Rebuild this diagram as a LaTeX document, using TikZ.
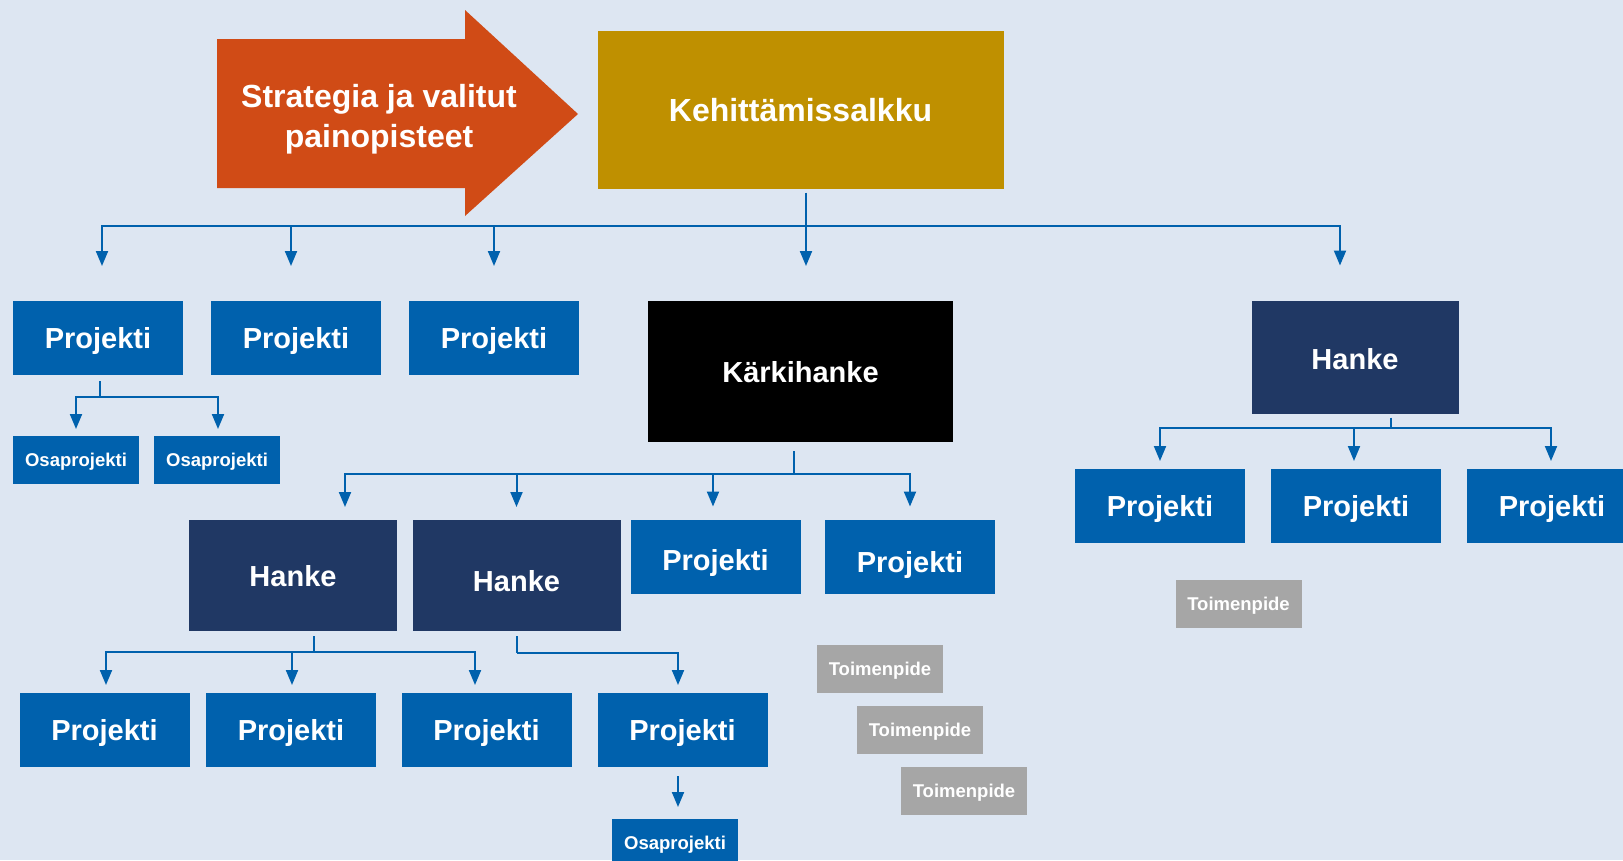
\documentclass[tikz,border=0pt]{standalone}
\usepackage{fontspec}
\setmainfont{Liberation Sans}
\usepackage{tikz}
\usetikzlibrary{arrows.meta}
\usepackage{xcolor}
\definecolor{bgblue}{HTML}{DDE6F2}
\definecolor{projblue}{HTML}{0061AD}
\definecolor{hankenavy}{HTML}{203864}
\definecolor{salkkugold}{HTML}{BF9000}
\definecolor{strategyorange}{HTML}{D04B16}
\definecolor{toimgray}{HTML}{A6A6A6}

\begin{document}
\begin{tikzpicture}
    [   x = 1pt, y = -1pt
    ,   > = {Triangle[width=12pt,length=15pt]}
    ,   box/.style =
        {   inner sep = 0mm
        ,   outer sep = 0mm
        ,   text = white
        ,   font = \bfseries\fontsize{29}{34}\selectfont
        ,   text height = 21pt
        ,   text depth = 0pt
        }
    ,   projekti/.style =
        {   box
        ,   fill = projblue
        ,   minimum width = 170pt
        ,   minimum height = 74pt
        }
    ,   hanke/.style =
        {   box
        ,   fill = hankenavy
        ,   minimum width = 208pt
        ,   minimum height = 111pt
        }
    ,   small/.style =
        {   box
        ,   minimum width = 126pt
        ,   minimum height = 48pt
        ,   font = \bfseries\fontsize{18.5}{22}\selectfont
        ,   text height = 13pt
        }
    ,   link/.style =
        {   draw = projblue
        ,   line width = 2pt
        }
    ]
    \useasboundingbox (0,0) rectangle (1623,860);
    \fill[bgblue] (0,0) rectangle (1623,860);

    % strategy arrow and portfolio
    \fill[strategyorange] (217,39) -- (465,39) -- (465,10) -- (578,114)
        -- (465,216) -- (465,188) -- (217,188) -- cycle;
    \node[box, align=center, font=\bfseries\fontsize{32}{40}\selectfont, text height=23pt]
        (strategia) at (379,136) {Strategia ja valitut\\painopisteet};
    \node[box, fill=salkkugold, minimum width=406pt, minimum height=158pt,
        font=\bfseries\fontsize{32}{38}\selectfont, text height=23pt]
        (S) at (800.5,109.5) {Kehittämissalkku};

    % first level
    \foreach\n/\x in {0/98,1/296,2/494}
    {   \node[projekti] (P\n) at (\x,338) {Projekti};
    }
    \node[box, fill=black, minimum width=305pt, minimum height=141pt] (K) at (800.5,371.5) {Kärkihanke};
    \node[hanke, minimum width=207pt, minimum height=113pt, text height=25pt] (H) at (1355,357) {Hanke};
    \foreach\n/\x in {0/76,1/217}
    {   \node[small, fill=projblue] (O\n) at (\x,460) {Osaprojekti};
    }

    % under Hanke (right)
    \foreach\n/\x in {0/1160,1/1356,2/1552}
    {   \node[projekti] (R\n) at (\x,506) {Projekti};
    }
    \node[small, fill=toimgray] (T3) at (1238.5,603.5) {Toimenpide};

    % under Kärkihanke
    \node[hanke] (HL0) at (293,575.5) {Hanke};
    \node[hanke, text height=31pt] (HL1) at (516.5,575.5) {Hanke};
    \foreach\n/\x/\h in {0/715.5/27pt,1/910/31pt}
    {   \node[projekti, text height=\h] (KP\n) at (\x,556.5) {Projekti};
    }
    \foreach\n/\x/\y in {0/880/669,1/920/730,2/964/791}
    {   \node[small, fill=toimgray] (T\n) at (\x,\y) {Toimenpide};
    }
    \foreach\n/\x in {0/104.5,1/291,2/486.5,3/682.5}
    {   \node[projekti] (B\n) at (\x,730) {Projekti};
    }
    \node[small, fill=projblue] (O2) at (675,843) {Osaprojekti};

    % connectors
    \draw[link] ([xshift=5.5pt,yshift=-4pt]S.south) -- ++(0,33) coordinate (s0);
    \foreach\t/\dx in {P0/4pt,P1/-5pt,P2/0pt,K/5.5pt,H/-15pt}
    {   \draw[link,->] (s0) -| ([xshift=\dx,yshift=35pt]\t.north);
    }
    \draw[link] ([xshift=2pt,yshift=-6pt]P0.south) -- ++(0,16) coordinate (p0);
    \foreach\t/\dx in {O0/0pt,O1/1pt}
    {   \draw[link,->] (p0) -| ([xshift=\dx,yshift=7pt]\t.north);
    }
    \draw[link] ([xshift=-6.5pt,yshift=-9pt]K.south) -- ++(0,23) coordinate (k0);
    \foreach\t/\dx in {HL0/52pt,HL1/0pt,KP0/-2.5pt,KP1/0pt}
    {   \draw[link,->] (k0) -| ([xshift=\dx,yshift=13pt]\t.north);
    }
    \draw[link] ([xshift=36pt,yshift=-4pt]H.south) -- ++(0,10) coordinate (h0);
    \foreach\t/\dx in {R0/0pt,R1/-2pt,R2/-1pt}
    {   \draw[link,->] (h0) -| ([xshift=\dx,yshift=8pt]\t.north);
    }
    \draw[link] ([xshift=21pt,yshift=-5pt]HL0.south) -- ++(0,16) coordinate (hl0);
    \foreach\t/\dx in {B0/1.5pt,B1/1pt,B2/-11.5pt}
    {   \draw[link,->] (hl0) -| ([xshift=\dx,yshift=8pt]\t.north);
    }
    \draw[link] ([yshift=-5pt]HL1.south) -- ++(0,17) coordinate (hl1);
    \draw[link,->] (hl1) -| ([xshift=-4.5pt,yshift=8pt]B3.north);
    \draw[link,->] ([xshift=-4.5pt,yshift=-9pt]B3.south) -- ([xshift=3pt,yshift=12pt]O2.north);

\end{tikzpicture}
\end{document}
